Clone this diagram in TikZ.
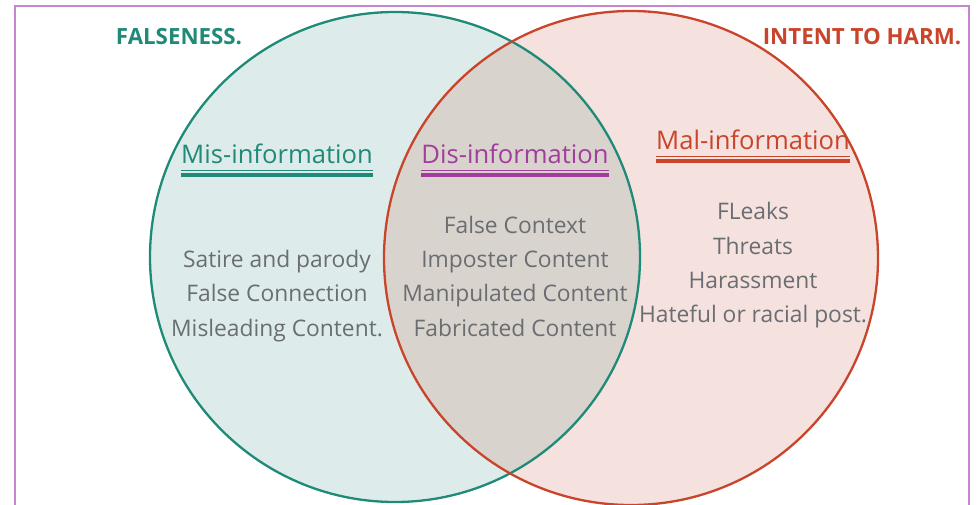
\documentclass[tikz,border=0pt]{standalone}
\usepackage{fontspec}
\setmainfont{Open Sans}
\usetikzlibrary{calc}
\definecolor{falsecol}{HTML}{1F8A78}
\definecolor{falsefill}{HTML}{DDECEA}
\definecolor{harmcol}{HTML}{C9442A}
\definecolor{harmfill}{HTML}{F5E1DE}
\definecolor{bothfill}{HTML}{D9D3CD}
\definecolor{discol}{HTML}{A23D9E}
\definecolor{bodytext}{HTML}{6A6D72}
\definecolor{framecol}{HTML}{C586CF}
\tikzset{
  frame/.style={line width=1.2pt, draw=framecol},
  ring/.style={line width=2.3pt},
  title/.style={font=\fontsize{22.3}{26}\selectfont\bfseries, inner sep=0pt},
  head/.style={font=\fontsize{25.6}{30}\selectfont, inner sep=0pt},
  body/.style={font=\fontsize{22.8}{34.3}\selectfont, text=bodytext, align=center, inner sep=0pt},
  ulthin/.style={line width=1.3pt},
  ulthick/.style={line width=3.6pt}
}

\begin{document}
\begin{tikzpicture}[x=1pt,y=-1pt]
  \useasboundingbox (0,0) rectangle (977,504);
  \fill[white] (0,0) rectangle (977,504);

  % outer frame
  \draw[frame] (15,510)--(15,6)--(969,6)--(969,510);

  % circles
  \coordinate (L) at (395,257);
  \coordinate (R) at (631,258);
  \fill[falsefill] (L) circle (245pt);
  \fill[harmfill] (R) circle (247pt);
  \begin{scope}
    \clip (L) circle (245pt);
    \fill[bothfill] (R) circle (247pt);
  \end{scope}
  \draw[ring, draw=falsecol] (L) circle (245pt);
  \draw[ring, draw=harmcol] (R) circle (247pt);

  % titles
  \node[title, text=falsecol] (falseness) at (179,37) {FALSENESS.};
  \node[title, text=harmcol] (harm) at (862,37) {INTENT TO HARM.};

  % headings
  \node[head, text=falsecol] (mis) at (277,154) {Mis-information};
  \node[head, text=discol] (dis) at (515,154) {Dis-information};
  \node[head, text=harmcol] (mal) at (753,140) {Mal-information};

  % double underlines
  \foreach \n/\c in {mis/falsecol,dis/discol,mal/harmcol}{
    \draw[ulthin, draw=\c] ($(\n.base west)+(0,7)$) -- ($(\n.base east)+(0,7)$);
    \draw[ulthick, draw=\c] ($(\n.base west)+(0,11.5)$) -- ($(\n.base east)+(0,11.5)$);
  }

  % lists
  \node[body] (misl) at (277,296) {Satire and parody\\False Connection\\Misleading Content.};
  \node[body] (disl) at (515,276) {False Context\\Imposter Content\\Manipulated Content\\Fabricated Content};
  \node[body] (mall) at (753,265.5) {FLeaks\\Threats\\Harassment\\Hateful or racial post.};
\end{tikzpicture}
\end{document}
